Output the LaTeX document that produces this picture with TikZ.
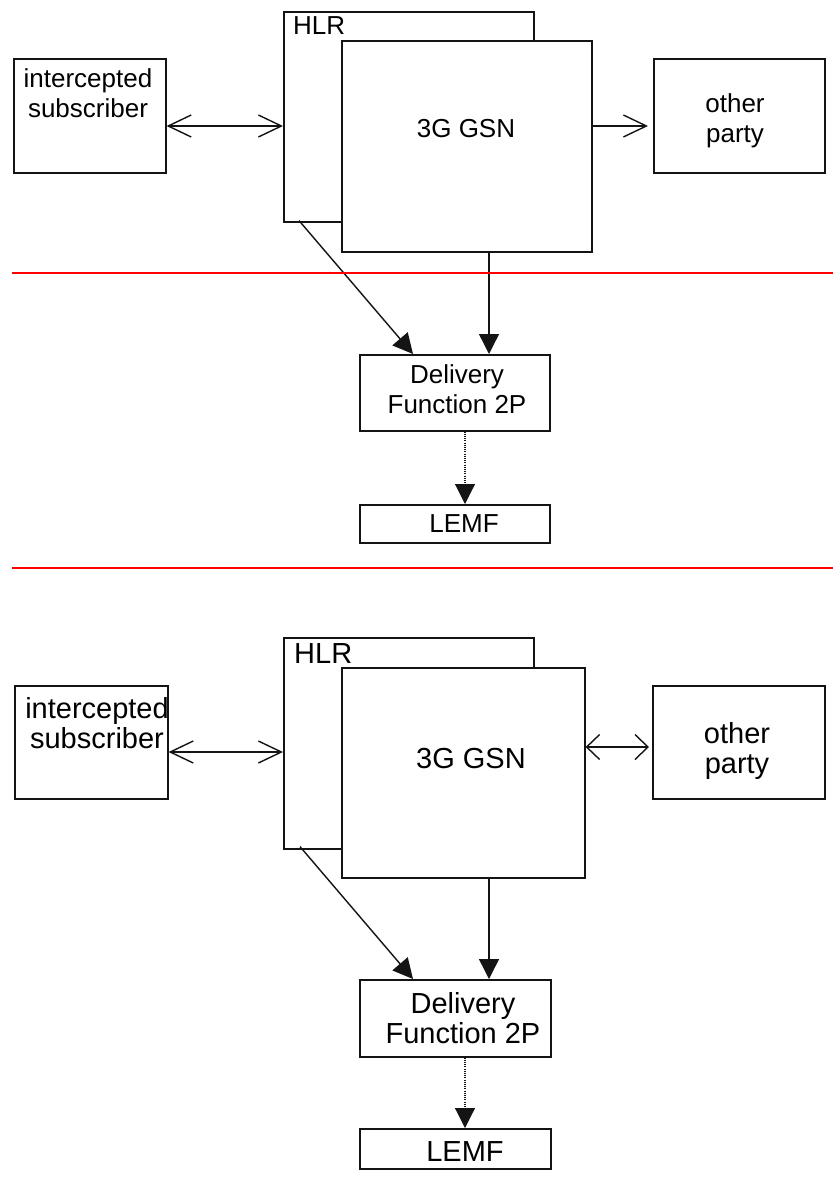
\documentclass[tikz,border=0pt]{standalone}
\usepackage{fontspec}
\setmainfont{Liberation Sans}
\usetikzlibrary{arrows.meta,calc}
\definecolor{cutred}{RGB}{255,0,0}
\definecolor{boxgray}{RGB}{20,20,20}

\begin{document}
\begin{tikzpicture}[x=1pt, y=-1pt, >={Triangle[length=20pt,width=20pt]},
  blk/.style={draw=boxgray, line width=1.6pt, fill=white, inner sep=0pt, anchor=north west},
  lbl/.style={inner sep=0pt, align=center, anchor=base},
  fsA/.style={font=\fontsize{26}{30}\selectfont},
  fsB/.style={font=\fontsize{29}{30}\selectfont},
  wire/.style={line width=1.4pt, draw=boxgray},
  barbs/.style={wire, {Straight Barb[length=23pt,width=22pt]}-{Straight Barb[length=23pt,width=22pt]}},
  barb/.style={wire, -{Straight Barb[length=23pt,width=22pt]}},
  shortbarbs/.style={wire, {Straight Barb[length=13pt,width=25pt]}-{Straight Barb[length=13pt,width=25pt]}},
  feed/.style={wire, ->},
  handover/.style={wire, line width=1.1pt, dash pattern=on 1pt off 1.2pt, ->},
  cut/.style={draw=cutred, line width=2.2pt}]
  \fill[white] (0,0) rectangle (833,1183);
  \useasboundingbox (0,0) rectangle (833,1183);

  % upper panel: boxes
  \node[blk, minimum width=152pt, minimum height=114pt] (subsA) at (13,58) {};
  \node[blk, minimum width=250pt, minimum height=210pt] (hlrA) at (283,11) {};
  \node[blk, minimum width=250pt, minimum height=211pt] (gsnA) at (341,40) {};
  \node[blk, minimum width=171pt, minimum height=114pt] (otherA) at (653,58) {};
  \node[blk, minimum width=190pt, minimum height=76pt] (dfA) at (359,354) {};
  \node[blk, minimum width=190pt, minimum height=38pt] (lemfA) at (359,504) {};
  % upper panel: texts (base = last line)
  \node[lbl, fsA] (subsAtxt) at (88,117) {intercepted\\subscriber};
  \node[lbl, fsA, anchor=base west] (hlrAtxt) at (293,34) {HLR};
  \node[lbl, fsA] (gsnAtxt) at (466,137) {3G GSN};
  \node[lbl, fsA] (otherAtxt) at (735,142) {other\\party};
  \node[lbl, fsA] (dfAtxt) at (457,413) {Delivery\\Function 2P};
  \node[lbl, fsA] (lemfAtxt) at (464,532) {LEMF};
  % upper panel: connectors
  \coordinate (rowA) at (0,126);
  \coordinate (colA) at (489,0);
  \coordinate (diagA) at (413,0);
  \coordinate (dotA) at (465,0);
  \coordinate (hlrAout) at ($(hlrA.south west)+(16,-2)$);
  \draw[barbs] (subsA.east |- rowA) -- (hlrA.west |- rowA);
  \draw[barb] (gsnA.east |- rowA) -- ($(otherA.west |- rowA)+(-5,0)$);
  \draw[feed] (hlrAout) -- (dfA.north -| diagA);
  \draw[feed] (gsnA.south -| colA) -- (dfA.north -| colA);
  \draw[handover] (dfA.south -| dotA) -- (lemfA.north -| dotA);

  % separators
  \draw[cut] (12,273) -- (833,273);
  \draw[cut] (12,568) -- (833,568);

  % lower panel: boxes
  \node[blk, minimum width=153pt, minimum height=113pt] (subsB) at (14,685) {};
  \node[blk, minimum width=250pt, minimum height=211pt] (hlrB) at (283,637) {};
  \node[blk, minimum width=243pt, minimum height=210pt] (gsnB) at (341,667) {};
  \node[blk, minimum width=172pt, minimum height=113pt] (otherB) at (652,685) {};
  \node[blk, minimum width=191pt, minimum height=77pt] (dfB) at (359,979) {};
  \node[blk, minimum width=191pt, minimum height=40pt] (lemfB) at (359,1128) {};
  % lower panel: texts
  \node[lbl, fsB] (subsBtxt) at (97,748) {intercepted\\subscriber};
  \node[lbl, fsB, anchor=base west] (hlrBtxt) at (294,663) {HLR};
  \node[lbl, fsB] (gsnBtxt) at (471,768) {3G GSN};
  \node[lbl, fsB] (otherBtxt) at (737,773) {other\\party};
  \node[lbl, fsB] (dfBtxt) at (463,1043) {Delivery\\Function 2P};
  \node[lbl, fsB] (lemfBtxt) at (465,1161) {LEMF};
  % lower panel: connectors
  \coordinate (rowB) at (0,752);
  \coordinate (rowB2) at (0,747);
  \coordinate (colB) at (489,0);
  \coordinate (diagB) at (413,0);
  \coordinate (dotB) at (465,0);
  \coordinate (hlrBout) at ($(hlrB.south west)+(17,-3)$);
  \draw[barbs] (subsB.east |- rowB) -- (hlrB.west |- rowB);
  \draw[shortbarbs] (gsnB.east |- rowB2) -- ($(otherB.west |- rowB2)+(-3,0)$);
  \draw[feed] (hlrBout) -- (dfB.north -| diagB);
  \draw[feed] (gsnB.south -| colB) -- (dfB.north -| colB);
  \draw[handover] (dfB.south -| dotB) -- (lemfB.north -| dotB);
\end{tikzpicture}
\end{document}
